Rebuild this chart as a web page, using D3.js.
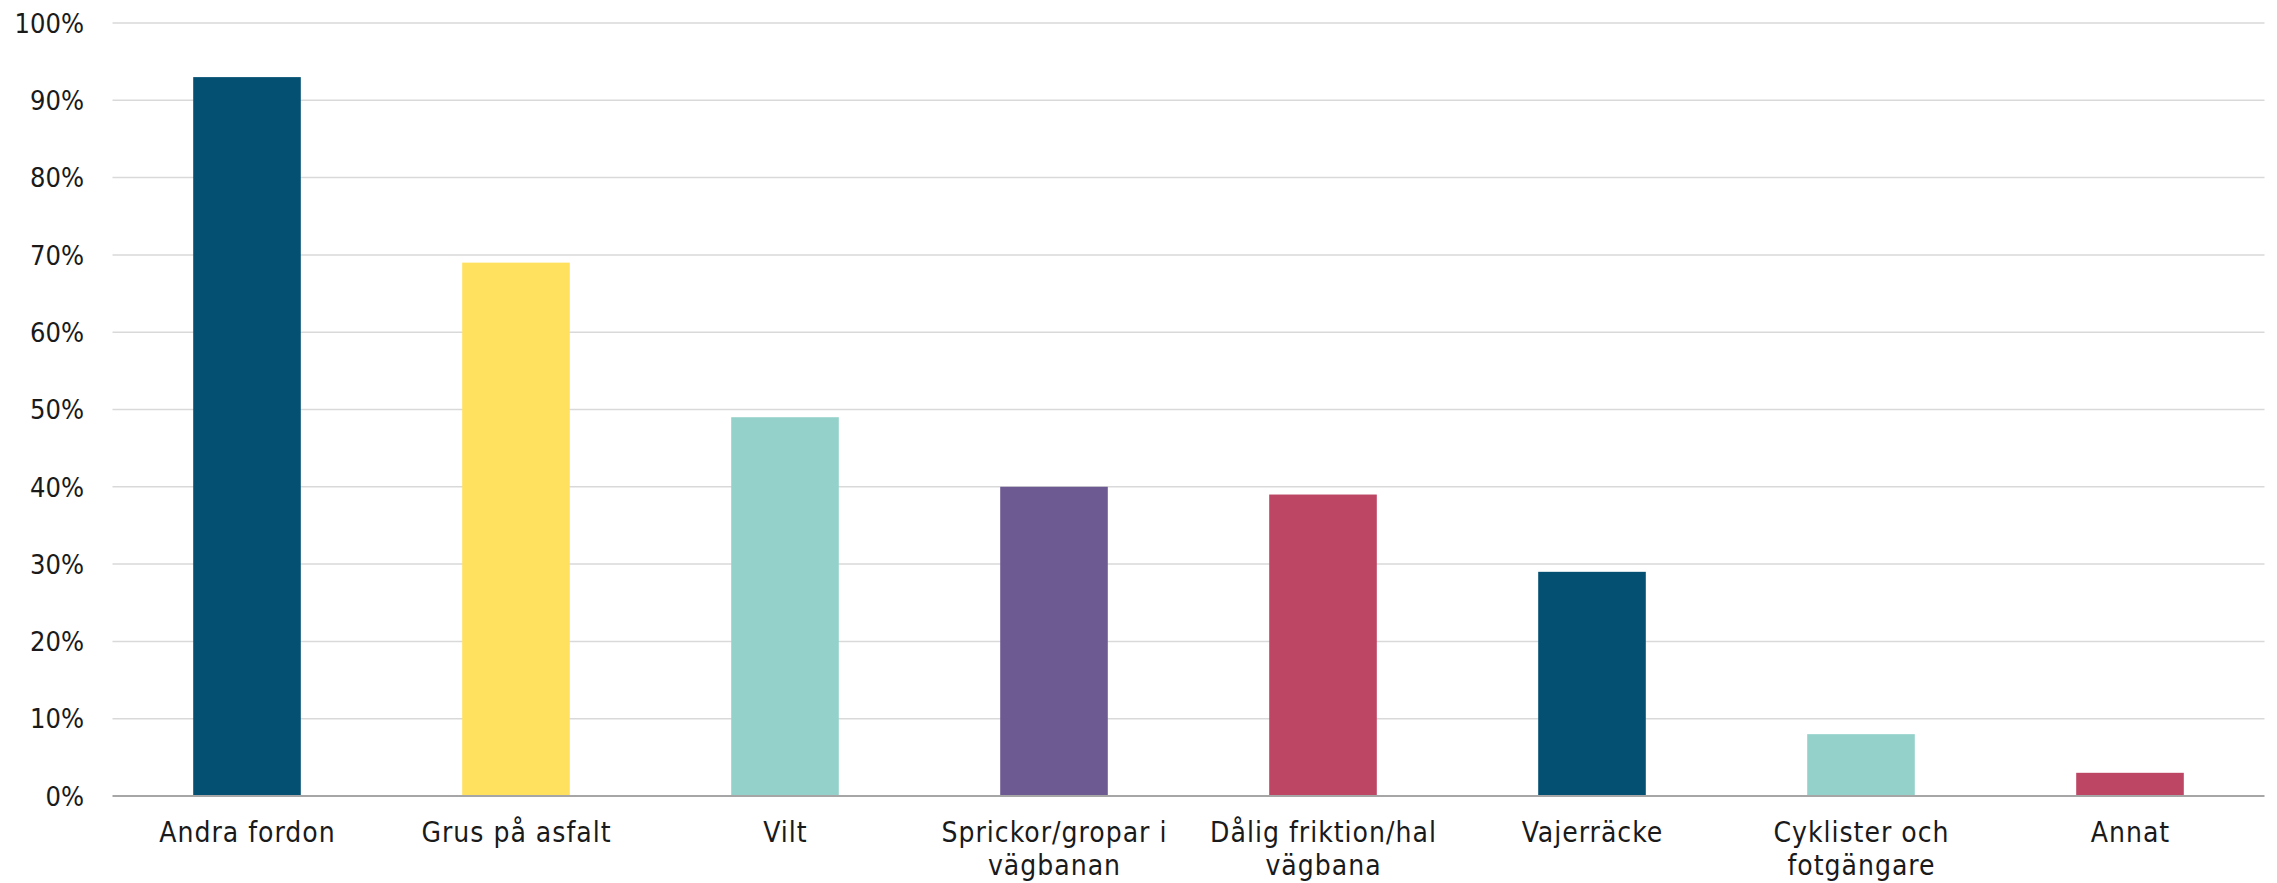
<!DOCTYPE html>
<html><head><meta charset="utf-8">
<script src="https://cdn.jsdelivr.net/npm/d3@7"></script>
<style>
body{margin:0;background:#fff;}
svg text{font-family:"DejaVu Sans Condensed","DejaVu Sans",sans-serif;font-stretch:condensed;fill:#1a1a1a;}
</style></head>
<body>
<svg id="c" width="2277" height="883"></svg>
<script>
const categories = ["Andra fordon","Grus på asfalt","Vilt","Sprickor/gropar i vägbanan","Dålig friktion/hal vägbana","Vajerräcke","Cyklister och fotgängare","Annat"];
const labelLines = [["Andra fordon"],["Grus på asfalt"],["Vilt"],["Sprickor/gropar i","vägbanan"],["Dålig friktion/hal","vägbana"],["Vajerräcke"],["Cyklister och","fotgängare"],["Annat"]];
const values = [0.93,0.69,0.49,0.40,0.39,0.29,0.08,0.03];
const colors = ["#045073","#FFE05F","#94D1CA","#6E5A93","#BC4664","#045073","#94D1CA","#BC4664"];
const yTicks = [0,0.1,0.2,0.3,0.4,0.5,0.6,0.7,0.8,0.9,1.0];

const svg = d3.select("#c");
const mLeft = 112.5, mRight = 2264.5, mTop = 23, mBottom = 796;
const x = d3.scaleBand().domain(categories).range([mLeft,mRight]).paddingInner(0.6).paddingOuter(0.3);
const y = d3.scaleLinear().domain([0,1]).range([mBottom,mTop]);

svg.append("g").selectAll("line").data(yTicks.filter(d=>d>0)).join("line")
  .attr("x1",mLeft).attr("x2",mRight).attr("y1",d=>y(d)).attr("y2",d=>y(d))
  .attr("stroke","#d9d9d9").attr("stroke-width",1.5);

svg.append("g").selectAll("text").data(yTicks).join("text")
  .attr("x",84).attr("y",d=>y(d)).attr("dy","0.36em").attr("text-anchor","end")
  .attr("font-size",27)
  .text(d=>d3.format(".0%")(d));

svg.append("g").selectAll("rect").data(values).join("rect")
  .attr("x",(d,i)=>x(categories[i])).attr("width",x.bandwidth())
  .attr("y",d=>y(d)).attr("height",d=>mBottom-y(d))
  .attr("fill",(d,i)=>colors[i]);

svg.append("line").attr("x1",mLeft).attr("x2",mRight).attr("y1",mBottom).attr("y2",mBottom)
  .attr("stroke","#a6a6a6").attr("stroke-width",2);

const xl = svg.append("g").selectAll("text").data(categories).join("text")
  .attr("x",d=>x(d)+x.bandwidth()/2).attr("y",842).attr("text-anchor","middle")
  .attr("font-size",28).attr("letter-spacing",1);
xl.each(function(d,i){
  const t=d3.select(this);
  labelLines[i].forEach((ln,j)=>{
    t.append("tspan").attr("x",x(d)+x.bandwidth()/2+0.5).attr("dy",j===0?0:33).text(ln);
  });
});
</script>
</body></html>
